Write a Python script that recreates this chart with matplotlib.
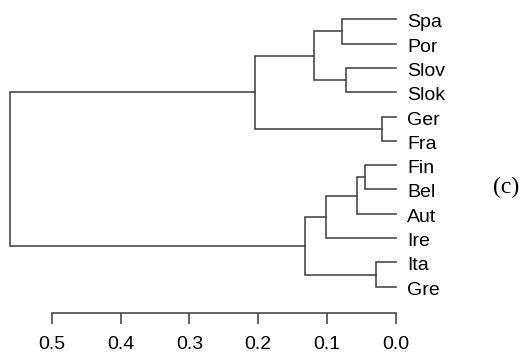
import matplotlib
matplotlib.use("Agg")
import matplotlib.pyplot as plt

# ---- data ----
labels = ["Spa", "Por", "Slov", "Slok", "Ger", "Fra",
          "Fin", "Bel", "Aut", "Ire", "Ita", "Gre"]
# R-style merge table: negative = leaf (1-based), positive = earlier merge
merge_left = [-5, -11, -7, 3, -3, -1, 4, 6, 7, 8, 10]
merge_right = [-6, -12, -8, -9, -4, -2, -10, 5, 2, 1, 9]
merge_height = [0.021, 0.029, 0.045, 0.057, 0.072, 0.079,
                0.101, 0.119, 0.132, 0.205, 0.561]
tick_values = [0.5, 0.4, 0.3, 0.2, 0.1, 0.0]
tick_labels = ["0.5", "0.4", "0.3", "0.2", "0.1", "0.0"]
panel_label = "(c)"

W, H = 529, 360
fig = plt.figure(figsize=(W / 100, H / 100), dpi=100)

line_color = "#3c3c3c"
lw = 1.1

# main axes over full figure
ax = fig.add_axes([0, 0, 1, 1])
x0_px, scale = 396.0, 688.6
ax.set_xlim(x0_px / scale, -(W - x0_px) / scale)
y_top, y_step = 19.3, 24.31
ax.set_ylim(1 + (H - y_top) / y_step, 1 - y_top / y_step)
ax.axis("off")

leaf_y = {i + 1: i + 1 for i in range(len(labels))}
node_y = {}
node_h = {}


def pos(idx):
    if idx < 0:
        return 0.0, leaf_y[-idx]
    return node_h[idx], node_y[idx]


for k, (l, r, h) in enumerate(zip(merge_left, merge_right, merge_height), start=1):
    hl, yl = pos(l)
    hr, yr = pos(r)
    ax.plot([hl, h, h, hr], [yl, yl, yr, yr], color=line_color, lw=lw,
            solid_capstyle="projecting", solid_joinstyle="miter")
    node_h[k] = h
    node_y[k] = (yl + yr) / 2

font_sans = ["Liberation Sans", "DejaVu Sans"]
for i, lab in enumerate(labels):
    ax.text(-0.016, i + 1 + 0.33, lab, ha="left", va="baseline",
            fontsize=14, family=font_sans, color="black")

ax.text(506 / W, 1 - 187 / H, panel_label, transform=ax.transAxes,
        ha="center", va="center", fontsize=17, family=["Liberation Serif"],
        color="black")

# bottom axis
ax2 = fig.add_axes([0, (H - 312.7) / H, 1, 0.0001])
ax2.set_xlim(ax.get_xlim())
for s in ["top", "left", "right"]:
    ax2.spines[s].set_visible(False)
ax2.spines["bottom"].set_bounds(0.0, 0.5)
ax2.spines["bottom"].set_color(line_color)
ax2.spines["bottom"].set_linewidth(lw)
ax2.set_yticks([])
ax2.set_xticks(tick_values)
ax2.set_xticklabels(tick_labels, family=font_sans, fontsize=14)
ax2.tick_params(axis="x", direction="out", length=8, width=lw,
                color=line_color, pad=9)
ax2.patch.set_visible(False)

fig.savefig("out.png", dpi=100)
